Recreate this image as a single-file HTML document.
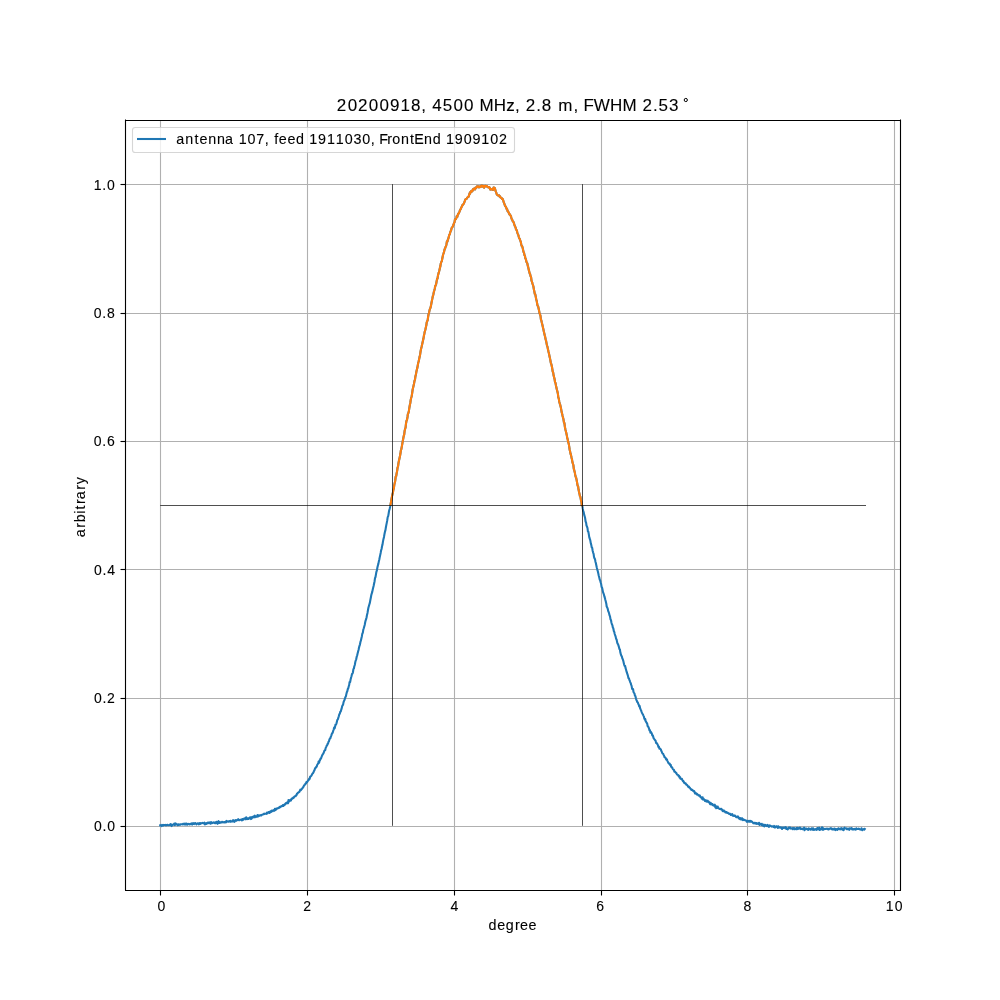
<!DOCTYPE html>
<html><head><meta charset="utf-8"><title>20200918, 4500 MHz, 2.8 m, FWHM 2.53</title><style>html,body{margin:0;padding:0;background:#fff;width:1000px;height:1000px;overflow:hidden}svg{display:block;will-change:transform}text{font-family:"Liberation Sans",sans-serif;fill:#000;stroke:#000;stroke-width:0.1px}</style></head><body>
<svg width="1000" height="1000" viewBox="0 0 1000 1000">
<rect width="1000" height="1000" fill="#fff"/>
<g stroke="#b0b0b0" stroke-width="1.111" fill="none">
<line x1="160.5" y1="120" x2="160.5" y2="890"/>
<line x1="307.5" y1="120" x2="307.5" y2="890"/>
<line x1="454.5" y1="120" x2="454.5" y2="890"/>
<line x1="601.5" y1="120" x2="601.5" y2="890"/>
<line x1="747.5" y1="120" x2="747.5" y2="890"/>
<line x1="894.5" y1="120" x2="894.5" y2="890"/>
<line x1="125" y1="826.5" x2="900" y2="826.5"/>
<line x1="125" y1="698.5" x2="900" y2="698.5"/>
<line x1="125" y1="569.5" x2="900" y2="569.5"/>
<line x1="125" y1="441.5" x2="900" y2="441.5"/>
<line x1="125" y1="313.5" x2="900" y2="313.5"/>
<line x1="125" y1="184.5" x2="900" y2="184.5"/>
</g>
<polyline fill="none" stroke="#1f77b4" stroke-width="2.083" stroke-linejoin="round" stroke-linecap="square" points="160.2,825.3 160.7,825.1 161.2,825.3 161.6,826.1 162.1,824.9 162.6,825.1 163.0,825.6 163.5,824.9 164.0,825.0 164.5,825.0 164.9,825.1 165.4,824.8 165.9,825.4 166.3,825.1 166.8,825.3 167.3,824.7 167.7,824.9 168.2,825.1 168.7,825.3 169.2,825.0 169.6,824.8 170.1,824.9 170.6,824.1 171.0,824.2 171.5,826.1 172.0,825.6 172.4,824.7 172.9,824.8 173.4,824.5 173.9,824.5 174.3,823.5 174.8,825.1 175.3,824.7 175.7,823.4 176.2,824.1 176.7,824.1 177.1,824.7 177.6,825.2 178.1,824.3 178.6,824.3 179.0,824.9 179.5,824.6 180.0,824.3 180.4,824.7 180.9,824.3 181.4,824.2 181.8,824.2 182.3,824.4 182.8,823.9 183.3,823.7 183.7,824.0 184.2,824.5 184.7,823.7 185.1,824.3 185.6,823.6 186.1,824.6 186.5,823.5 187.0,824.0 187.5,824.6 188.0,824.1 188.4,823.9 188.9,823.8 189.4,824.4 189.8,824.4 190.3,823.8 190.8,824.1 191.2,823.7 191.7,823.4 192.2,824.6 192.7,823.6 193.1,823.1 193.6,823.9 194.1,824.1 194.5,823.3 195.0,823.5 195.5,823.2 195.9,823.8 196.4,824.4 196.9,823.7 197.4,823.8 197.8,823.2 198.3,823.4 198.8,824.4 199.2,824.1 199.7,823.0 200.2,823.1 200.6,823.8 201.1,823.4 201.6,823.2 202.1,823.1 202.5,822.9 203.0,823.2 203.5,823.4 203.9,823.4 204.4,822.7 204.9,824.4 205.3,823.3 205.8,823.2 206.3,823.9 206.8,823.0 207.2,823.5 207.7,822.7 208.2,823.2 208.6,822.7 209.1,822.4 209.6,822.8 210.0,823.4 210.5,823.7 211.0,822.0 211.5,823.0 211.9,823.2 212.4,822.8 212.9,822.9 213.3,822.3 213.8,822.7 214.3,822.7 214.7,823.1 215.2,822.4 215.7,823.2 216.2,822.2 216.6,821.8 217.1,823.3 217.6,823.8 218.0,822.1 218.5,821.1 219.0,822.9 219.4,823.0 219.9,822.0 220.4,822.7 220.9,822.5 221.3,822.4 221.8,821.9 222.3,822.3 222.7,821.9 223.2,822.1 223.7,822.4 224.1,822.1 224.6,822.4 225.1,821.8 225.6,822.4 226.0,822.3 226.5,820.9 227.0,821.7 227.4,821.6 227.9,821.3 228.4,821.7 228.8,821.5 229.3,821.1 229.8,821.2 230.3,821.8 230.7,820.8 231.2,821.4 231.7,821.6 232.1,821.5 232.6,821.2 233.1,820.1 233.5,821.4 234.0,820.7 234.5,821.8 235.0,820.6 235.4,820.1 235.9,820.6 236.4,820.8 236.8,820.2 237.3,819.9 237.8,819.9 238.2,819.1 238.7,820.0 239.2,820.3 239.7,820.0 240.1,819.9 240.6,819.7 241.1,819.7 241.5,819.5 242.0,820.4 242.5,819.0 242.9,819.6 243.4,819.8 243.9,818.8 244.4,818.4 244.8,818.7 245.3,818.8 245.8,819.3 246.2,817.2 246.7,818.1 247.2,819.1 247.6,818.8 248.1,818.3 248.6,819.0 249.1,818.0 249.5,818.2 250.0,817.3 250.5,817.3 250.9,819.1 251.4,817.5 251.9,818.3 252.3,816.8 252.8,817.1 253.3,816.8 253.8,817.5 254.2,815.9 254.7,815.7 255.2,817.2 255.6,816.3 256.1,816.7 256.6,816.3 257.0,816.8 257.5,815.0 258.0,816.4 258.5,815.9 258.9,815.3 259.4,815.8 259.9,815.4 260.3,815.4 260.8,815.1 261.3,815.5 261.7,814.9 262.2,814.7 262.7,814.6 263.2,814.2 263.6,814.3 264.1,813.6 264.6,814.0 265.0,813.7 265.5,813.8 266.0,813.6 266.4,813.8 266.9,812.7 267.4,813.4 267.9,813.0 268.3,812.2 268.8,812.0 269.3,812.3 269.7,812.9 270.2,811.5 270.7,811.3 271.1,812.0 271.6,810.7 272.1,811.2 272.6,811.3 273.0,810.4 273.5,810.4 274.0,809.9 274.4,810.7 274.9,808.7 275.4,809.7 275.8,810.0 276.3,808.6 276.8,808.9 277.3,808.3 277.7,808.4 278.2,808.0 278.7,807.6 279.1,807.9 279.6,806.9 280.1,807.2 280.5,807.2 281.0,806.4 281.5,806.0 282.0,806.0 282.4,806.1 282.9,805.0 283.4,806.0 283.8,805.3 284.3,804.5 284.8,804.9 285.3,803.8 285.7,803.6 286.2,802.8 286.7,803.4 287.1,802.9 287.6,802.1 288.1,803.2 288.5,800.0 289.0,801.6 289.5,801.2 290.0,800.0 290.4,800.1 290.9,800.6 291.4,799.0 291.8,798.5 292.3,798.8 292.8,798.3 293.2,797.5 293.7,797.8 294.2,796.7 294.7,796.3 295.1,796.3 295.6,796.3 296.1,795.2 296.5,795.1 297.0,793.6 297.5,793.6 297.9,792.8 298.4,792.6 298.9,792.0 299.4,792.0 299.8,790.8 300.3,789.6 300.8,790.2 301.2,789.8 301.7,789.0 302.2,788.6 302.6,788.1 303.1,787.1 303.6,786.7 304.1,785.2 304.5,785.3 305.0,784.5 305.5,783.6 305.9,783.6 306.4,782.0 306.9,782.4 307.3,781.8 307.8,780.9 308.3,780.1 308.8,780.1 309.2,778.6 309.7,778.8 310.2,776.5 310.6,776.5 311.1,776.0 311.6,775.4 312.0,774.4 312.5,773.5 313.0,773.1 313.5,772.3 313.9,771.1 314.4,770.4 314.9,768.9 315.3,767.9 315.8,767.7 316.3,766.6 316.7,766.7 317.2,764.8 317.7,764.2 318.2,763.1 318.6,761.6 319.1,762.7 319.6,760.5 320.0,760.3 320.5,758.6 321.0,758.6 321.4,757.3 321.9,756.0 322.4,754.8 322.9,754.1 323.3,753.6 323.8,752.5 324.3,750.8 324.7,750.3 325.2,750.2 325.7,747.9 326.1,747.1 326.6,745.8 327.1,745.4 327.6,743.8 328.0,743.7 328.5,741.8 329.0,741.3 329.4,739.6 329.9,738.4 330.4,738.2 330.8,736.7 331.3,735.6 331.8,733.9 332.3,733.0 332.7,732.8 333.2,730.8 333.7,729.5 334.1,727.6 334.6,728.4 335.1,726.6 335.5,724.5 336.0,724.6 336.5,723.3 337.0,721.2 337.4,719.7 337.9,719.3 338.4,717.4 338.8,716.3 339.3,714.3 339.8,713.8 340.2,711.9 340.7,711.6 341.2,709.8 341.7,708.4 342.1,706.4 342.6,705.3 343.1,704.6 343.5,702.4 344.0,700.9 344.5,700.0 344.9,698.6 345.4,697.1 345.9,696.3 346.4,693.9 346.8,692.3 347.3,691.3 347.8,689.0 348.2,688.5 348.7,686.5 349.2,684.9 349.6,682.0 350.1,682.2 350.6,679.5 351.1,677.6 351.5,676.2 352.0,674.1 352.5,673.6 352.9,672.5 353.4,669.2 353.9,668.5 354.3,666.3 354.8,665.0 355.3,662.0 355.8,660.3 356.2,659.3 356.7,656.7 357.2,655.3 357.6,653.5 358.1,651.6 358.6,649.8 359.0,647.6 359.5,645.8 360.0,644.3 360.5,641.6 360.9,640.6 361.4,638.2 361.9,636.2 362.3,633.7 362.8,632.8 363.3,629.6 363.7,628.5 364.2,626.7 364.7,625.0 365.2,622.3 365.6,620.6 366.1,619.2 366.6,617.2 367.0,614.9 367.5,612.9 368.0,610.0 368.4,607.8 368.9,606.0 369.4,604.2 369.9,602.6 370.3,600.3 370.8,597.7 371.3,595.0 371.7,593.6 372.2,592.1 372.7,589.8 373.1,587.9 373.6,586.0 374.1,583.5 374.6,581.2 375.0,578.2 375.5,577.0 376.0,574.1 376.4,571.8 376.9,570.4 377.4,567.5 377.8,565.7 378.3,564.1 378.8,561.6 379.3,559.5 379.7,557.4 380.2,555.1 380.7,552.7 381.1,550.3 381.6,548.8 382.1,546.0 382.5,544.6 383.0,541.4 383.5,538.9 384.0,536.9 384.4,534.5 384.9,532.0 385.4,530.4 385.8,527.8 386.3,525.1 386.8,522.6 387.2,520.5 387.7,517.1 388.2,516.1 388.7,513.2 389.1,510.7 389.6,509.0 390.1,507.0 390.5,504.8 391.0,501.8 391.5,498.9 391.9,496.9 392.4,494.6 392.9,492.5 393.4,489.6 393.8,488.6 394.3,484.9 394.8,482.6 395.2,480.9 395.7,476.7 396.2,476.1 396.6,473.5 397.1,471.1 397.6,467.5 398.1,466.1 398.5,462.9 399.0,460.5 399.5,458.2 399.9,456.6 400.4,453.8 400.9,450.2 401.3,449.3 401.8,446.6 402.3,443.8 402.8,440.9 403.2,438.7 403.7,436.1 404.2,434.6 404.6,431.1 405.1,428.9 405.6,427.5 406.0,423.5 406.5,420.7 407.0,419.9 407.5,417.0 407.9,413.9 408.4,413.0 408.9,410.9 409.3,408.1 409.8,405.3 410.3,403.0 410.7,400.0 411.2,397.8 411.7,396.2 412.2,392.9 412.6,389.8 413.1,387.8 413.6,385.6 414.0,383.7 414.5,380.9 415.0,379.6 415.4,376.4 415.9,374.5 416.4,371.6 416.9,369.6 417.3,368.1 417.8,365.2 418.3,362.4 418.7,361.3 419.2,358.7 419.7,356.6 420.1,354.7 420.6,351.2 421.1,348.8 421.6,346.8 422.0,344.9 422.5,342.8 423.0,340.5 423.4,338.8 423.9,335.8 424.4,333.5 424.8,331.4 425.3,330.0 425.8,327.6 426.3,325.6 426.7,322.4 427.2,321.2 427.7,320.1 428.1,316.8 428.6,314.0 429.1,312.5 429.5,310.4 430.0,308.7 430.5,307.7 431.0,305.6 431.4,303.3 431.9,300.7 432.4,298.4 432.8,296.2 433.3,294.8 433.8,292.1 434.2,290.8 434.7,289.0 435.2,286.3 435.7,285.2 436.1,284.2 436.6,281.4 437.1,278.9 437.5,278.6 438.0,275.3 438.5,273.4 438.9,272.1 439.4,270.3 439.9,267.9 440.4,266.1 440.8,263.3 441.3,262.0 441.8,261.2 442.2,259.0 442.7,256.5 443.2,254.2 443.6,253.3 444.1,251.6 444.6,249.2 445.1,248.6 445.5,247.1 446.0,246.2 446.5,244.2 446.9,241.3 447.4,241.7 447.9,239.5 448.3,238.8 448.8,236.7 449.3,234.9 449.8,234.2 450.2,232.4 450.7,231.1 451.2,230.0 451.6,228.1 452.1,227.4 452.6,226.8 453.0,225.8 453.5,224.8 454.0,223.0 454.5,222.3 454.9,219.6 455.4,219.0 455.9,219.1 456.3,218.1 456.8,216.1 457.3,216.9 457.7,215.2 458.2,213.5 458.7,213.6 459.2,212.4 459.6,211.4 460.1,209.9 460.6,209.3 461.0,208.2 461.5,207.1 462.0,206.4 462.4,204.9 462.9,204.8 463.4,204.2 463.9,203.4 464.3,202.4 464.8,201.0 465.3,199.5 465.7,199.2 466.2,199.0 466.7,198.7 467.1,197.9 467.6,197.3 468.1,196.9 468.6,196.7 469.0,195.4 469.5,193.4 470.0,193.8 470.4,191.9 470.9,192.3 471.4,190.7 471.8,190.9 472.3,191.3 472.8,190.0 473.3,188.8 473.7,189.4 474.2,188.6 474.7,188.9 475.1,189.5 475.6,187.6 476.1,187.5 476.5,187.6 477.0,186.3 477.5,186.5 478.0,187.0 478.4,186.4 478.9,187.4 479.4,186.6 479.8,187.2 480.3,186.3 480.8,186.9 481.2,185.5 481.7,186.1 482.2,185.5 482.7,186.7 483.1,186.6 483.6,185.9 484.1,187.8 484.5,186.9 485.0,185.8 485.5,186.1 485.9,185.8 486.4,186.4 486.9,186.0 487.4,186.7 487.8,187.1 488.3,187.4 488.8,187.0 489.2,187.2 489.7,187.6 490.2,189.6 490.6,189.5 491.1,189.2 491.6,189.0 492.1,189.5 492.5,189.5 493.0,190.0 493.5,187.6 493.9,189.2 494.4,187.8 494.9,188.3 495.3,189.8 495.8,191.6 496.3,192.7 496.8,194.6 497.2,194.6 497.7,195.3 498.2,195.4 498.6,195.5 499.1,195.4 499.6,196.7 500.0,196.2 500.5,197.4 501.0,197.8 501.5,198.0 501.9,198.8 502.4,198.5 502.9,199.6 503.3,200.7 503.8,202.5 504.3,203.4 504.7,204.9 505.2,206.2 505.7,206.4 506.2,207.4 506.6,209.0 507.1,209.1 507.6,211.2 508.0,211.3 508.5,212.4 509.0,213.2 509.4,214.4 509.9,214.3 510.4,215.4 510.9,216.1 511.3,217.6 511.8,219.3 512.3,219.9 512.7,221.3 513.2,221.6 513.7,222.3 514.1,223.9 514.6,225.5 515.1,226.5 515.6,227.4 516.0,229.5 516.5,229.9 517.0,231.2 517.4,232.8 517.9,234.1 518.4,235.1 518.8,237.0 519.3,238.4 519.8,239.0 520.3,240.7 520.7,241.4 521.2,244.2 521.7,246.0 522.1,246.1 522.6,247.6 523.1,250.0 523.5,251.9 524.0,252.7 524.5,255.2 525.0,256.1 525.4,258.6 525.9,259.2 526.4,261.8 526.8,262.5 527.3,263.3 527.8,265.9 528.2,267.1 528.7,269.6 529.2,271.4 529.7,273.5 530.1,274.0 530.6,276.3 531.1,277.3 531.5,280.6 532.0,281.9 532.5,283.6 532.9,284.8 533.4,286.5 533.9,289.6 534.4,291.8 534.8,294.0 535.3,294.4 535.8,297.0 536.2,299.3 536.7,300.9 537.2,304.1 537.6,305.7 538.1,306.3 538.6,308.5 539.1,310.7 539.5,313.2 540.0,314.4 540.5,315.8 540.9,319.4 541.4,320.7 541.9,323.0 542.3,324.6 542.8,326.8 543.3,328.9 543.8,331.4 544.2,333.0 544.7,335.3 545.2,337.1 545.6,339.2 546.1,340.9 546.6,343.6 547.0,345.5 547.5,346.9 548.0,349.6 548.5,351.8 548.9,353.3 549.4,355.7 549.9,357.9 550.3,359.9 550.8,362.8 551.3,364.1 551.7,365.7 552.2,368.3 552.7,371.5 553.2,372.7 553.6,375.4 554.1,377.2 554.6,379.2 555.0,382.0 555.5,382.9 556.0,385.7 556.4,387.5 556.9,389.7 557.4,391.5 557.9,393.7 558.3,397.3 558.8,398.7 559.3,402.0 559.7,403.3 560.2,404.8 560.7,406.9 561.1,408.9 561.6,411.9 562.1,413.7 562.6,416.0 563.0,417.6 563.5,419.6 564.0,422.8 564.4,422.9 564.9,427.0 565.4,429.4 565.8,431.0 566.3,433.1 566.8,435.4 567.3,438.2 567.7,439.3 568.2,442.2 568.7,443.6 569.1,445.9 569.6,449.4 570.1,451.4 570.5,453.6 571.0,455.1 571.5,457.4 572.0,459.4 572.4,462.2 572.9,463.7 573.4,465.3 573.8,468.9 574.3,470.4 574.8,472.4 575.2,474.7 575.7,476.9 576.2,478.0 576.7,480.4 577.1,482.7 577.6,485.7 578.1,486.2 578.5,489.3 579.0,491.9 579.5,493.9 579.9,496.1 580.4,496.8 580.9,499.9 581.4,502.1 581.8,505.3 582.3,505.9 582.8,508.9 583.2,511.0 583.7,512.1 584.2,514.9 584.6,516.1 585.1,518.0 585.6,521.5 586.1,522.7 586.5,525.5 587.0,526.7 587.5,528.2 587.9,531.4 588.4,531.8 588.9,534.9 589.3,537.3 589.8,538.8 590.3,540.3 590.8,543.3 591.2,544.6 591.7,547.3 592.2,547.9 592.6,550.4 593.1,552.6 593.6,553.8 594.0,556.9 594.5,558.4 595.0,559.1 595.5,562.0 595.9,563.2 596.4,565.7 596.9,568.0 597.3,569.6 597.8,571.3 598.3,573.4 598.7,575.5 599.2,577.3 599.7,579.5 600.2,580.5 600.6,582.2 601.1,583.8 601.6,587.0 602.0,587.4 602.5,589.6 603.0,592.1 603.4,593.1 603.9,594.5 604.4,596.4 604.9,598.1 605.3,599.7 605.8,601.5 606.3,603.7 606.7,606.5 607.2,607.5 607.7,608.6 608.1,610.8 608.6,611.9 609.1,613.5 609.6,615.6 610.0,616.3 610.5,619.4 611.0,620.1 611.4,622.5 611.9,624.3 612.4,625.2 612.8,627.4 613.3,628.3 613.8,631.0 614.3,631.9 614.7,634.0 615.2,635.3 615.7,636.9 616.1,638.9 616.6,639.5 617.1,642.1 617.5,643.5 618.0,644.1 618.5,645.6 619.0,647.3 619.4,649.0 619.9,649.5 620.4,652.8 620.8,654.1 621.3,655.7 621.8,656.2 622.2,658.0 622.7,659.1 623.2,660.6 623.7,662.7 624.1,664.5 624.6,666.0 625.1,665.8 625.5,667.9 626.0,669.5 626.5,671.4 626.9,672.7 627.4,674.2 627.9,675.6 628.4,678.0 628.8,678.2 629.3,679.7 629.8,680.7 630.2,682.1 630.7,683.1 631.2,684.9 631.6,685.8 632.1,688.8 632.6,689.4 633.1,689.2 633.5,692.0 634.0,692.8 634.5,693.5 634.9,695.6 635.4,696.0 635.9,698.3 636.3,699.8 636.8,700.7 637.3,702.1 637.8,702.4 638.2,703.8 638.7,704.6 639.2,706.5 639.6,705.8 640.1,708.3 640.6,709.4 641.0,710.2 641.5,711.7 642.0,713.0 642.5,713.8 642.9,714.4 643.4,715.6 643.9,716.6 644.3,718.4 644.8,719.6 645.3,719.2 645.7,721.4 646.2,722.0 646.7,722.9 647.2,723.6 647.6,726.0 648.1,726.5 648.6,727.5 649.0,728.4 649.5,730.5 650.0,730.2 650.4,732.6 650.9,731.9 651.4,732.8 651.9,733.7 652.3,735.5 652.8,735.3 653.3,737.2 653.7,738.3 654.2,739.0 654.7,739.8 655.1,740.2 655.6,740.7 656.1,743.1 656.6,743.2 657.0,743.3 657.5,744.5 658.0,745.2 658.4,747.0 658.9,746.6 659.4,748.7 659.8,748.6 660.3,748.8 660.8,749.4 661.3,750.9 661.7,751.5 662.2,753.0 662.7,753.7 663.1,753.7 663.6,755.0 664.1,755.8 664.5,757.3 665.0,757.2 665.5,757.7 666.0,759.1 666.4,759.7 666.9,759.4 667.4,760.8 667.8,761.7 668.3,762.9 668.8,763.3 669.2,763.8 669.7,763.6 670.2,765.3 670.7,764.8 671.1,766.8 671.6,767.2 672.1,767.2 672.5,768.4 673.0,769.4 673.5,769.6 673.9,769.9 674.4,771.7 674.9,771.5 675.4,772.1 675.8,772.8 676.3,772.8 676.8,774.1 677.2,774.6 677.7,774.9 678.2,775.2 678.6,776.2 679.1,775.9 679.6,777.7 680.1,777.1 680.5,778.7 681.0,778.9 681.5,779.2 681.9,778.8 682.4,780.0 682.9,781.1 683.3,780.8 683.8,782.1 684.3,782.9 684.8,782.7 685.2,783.4 685.7,783.4 686.2,784.7 686.6,784.7 687.1,785.0 687.6,785.7 688.0,786.3 688.5,787.1 689.0,786.7 689.5,787.5 689.9,787.8 690.4,788.7 690.9,788.9 691.3,789.9 691.8,789.7 692.3,789.8 692.7,790.6 693.2,790.6 693.7,791.3 694.2,791.1 694.6,792.3 695.1,793.5 695.6,792.8 696.0,793.5 696.5,794.3 697.0,793.8 697.4,794.4 697.9,794.7 698.4,795.4 698.9,795.5 699.3,795.8 699.8,795.4 700.3,797.0 700.7,797.0 701.2,797.2 701.7,798.6 702.1,798.8 702.6,797.2 703.1,799.6 703.6,798.7 704.0,799.7 704.5,800.0 705.0,801.0 705.4,800.7 705.9,800.2 706.4,801.6 706.8,800.9 707.3,801.3 707.8,800.7 708.3,802.3 708.7,801.7 709.2,802.2 709.7,803.1 710.1,804.1 710.6,802.7 711.1,804.5 711.5,804.3 712.0,803.9 712.5,804.0 713.0,805.3 713.4,805.2 713.9,805.6 714.4,805.1 714.8,804.7 715.3,807.2 715.8,806.0 716.2,808.2 716.7,807.0 717.2,807.9 717.7,806.5 718.1,807.7 718.6,808.4 719.1,808.6 719.5,808.9 720.0,808.7 720.5,809.2 720.9,809.0 721.4,808.8 721.9,809.5 722.4,810.7 722.8,811.2 723.3,811.0 723.8,810.3 724.2,811.2 724.7,811.6 725.2,811.5 725.6,812.5 726.1,812.6 726.6,812.0 727.1,812.7 727.5,813.0 728.0,812.8 728.5,813.5 728.9,813.8 729.4,813.9 729.9,813.6 730.3,814.1 730.8,815.0 731.3,814.7 731.8,814.5 732.2,814.0 732.7,815.8 733.2,815.3 733.6,815.8 734.1,815.4 734.6,815.9 735.0,815.5 735.5,816.2 736.0,817.0 736.5,817.2 736.9,816.9 737.4,817.1 737.9,816.3 738.3,816.8 738.8,818.5 739.3,817.9 739.7,818.9 740.2,819.3 740.7,818.2 741.2,818.5 741.6,819.5 742.1,818.3 742.6,819.8 743.0,820.1 743.5,819.3 744.0,819.7 744.5,820.1 744.9,820.2 745.4,820.2 745.9,820.5 746.3,820.7 746.8,821.8 747.3,821.6 747.7,820.8 748.2,821.6 748.7,821.1 749.2,820.9 749.6,821.8 750.1,821.7 750.6,820.9 751.0,821.7 751.5,821.3 752.0,821.6 752.4,822.1 752.9,822.7 753.4,823.2 753.9,823.4 754.3,822.7 754.8,822.9 755.3,823.3 755.7,822.9 756.2,823.8 756.7,823.0 757.1,823.7 757.6,823.8 758.1,823.9 758.6,824.1 759.0,822.8 759.5,825.0 760.0,824.2 760.4,823.8 760.9,824.2 761.4,824.8 761.8,823.8 762.3,825.4 762.8,825.6 763.3,824.7 763.7,825.8 764.2,826.4 764.7,824.8 765.1,825.0 765.6,825.1 766.1,825.8 766.5,825.5 767.0,826.2 767.5,824.9 768.0,825.5 768.4,825.6 768.9,827.0 769.4,825.7 769.8,825.4 770.3,825.6 770.8,825.9 771.2,826.4 771.7,826.6 772.2,826.2 772.7,826.4 773.1,826.5 773.6,826.9 774.1,825.9 774.5,827.4 775.0,826.9 775.5,827.3 775.9,826.5 776.4,826.3 776.9,826.5 777.4,826.8 777.8,828.0 778.3,826.2 778.8,827.1 779.2,827.4 779.7,827.4 780.2,827.7 780.6,827.3 781.1,827.4 781.6,827.8 782.1,829.0 782.5,827.7 783.0,827.5 783.5,827.5 783.9,827.9 784.4,827.7 784.9,827.4 785.3,828.2 785.8,827.2 786.3,829.0 786.8,828.7 787.2,828.6 787.7,829.4 788.2,828.7 788.6,827.6 789.1,827.6 789.6,828.2 790.0,827.4 790.5,828.2 791.0,828.6 791.5,828.3 791.9,828.5 792.4,828.1 792.9,829.2 793.3,828.0 793.8,828.7 794.3,828.1 794.7,829.3 795.2,828.8 795.7,828.6 796.2,828.2 796.6,829.3 797.1,827.8 797.6,828.4 798.0,829.0 798.5,828.1 799.0,828.7 799.4,828.1 799.9,827.6 800.4,828.4 800.9,829.1 801.3,829.0 801.8,828.5 802.3,828.7 802.7,829.3 803.2,829.2 803.7,828.5 804.1,827.7 804.6,830.2 805.1,828.5 805.6,829.0 806.0,828.5 806.5,828.5 807.0,828.9 807.4,829.5 807.9,829.7 808.4,829.9 808.8,828.3 809.3,829.1 809.8,829.2 810.3,829.1 810.7,829.7 811.2,828.8 811.7,828.3 812.1,828.4 812.6,829.8 813.1,828.3 813.5,829.4 814.0,830.0 814.5,829.6 815.0,829.5 815.4,829.0 815.9,829.5 816.4,829.8 816.8,829.1 817.3,828.0 817.8,829.4 818.2,828.8 818.7,828.9 819.2,827.6 819.7,830.0 820.1,828.4 820.6,829.6 821.1,829.3 821.5,829.0 822.0,827.3 822.5,829.4 822.9,829.9 823.4,828.3 823.9,829.4 824.4,829.1 824.8,829.0 825.3,828.9 825.8,829.0 826.2,828.8 826.7,828.7 827.2,828.5 827.6,829.2 828.1,829.3 828.6,829.5 829.1,828.6 829.5,828.9 830.0,828.6 830.5,828.6 830.9,828.0 831.4,828.8 831.9,828.5 832.3,829.5 832.8,829.4 833.3,829.0 833.8,829.5 834.2,828.5 834.7,829.6 835.2,828.8 835.6,830.1 836.1,829.4 836.6,829.0 837.0,829.0 837.5,829.8 838.0,828.8 838.5,828.3 838.9,828.5 839.4,829.2 839.9,829.1 840.3,829.4 840.8,828.5 841.3,828.1 841.7,829.1 842.2,829.7 842.7,828.7 843.2,828.5 843.6,830.2 844.1,828.7 844.6,827.7 845.0,828.4 845.5,828.5 846.0,828.6 846.4,828.3 846.9,829.3 847.4,829.2 847.9,828.6 848.3,829.2 848.8,828.7 849.3,829.8 849.7,828.4 850.2,828.4 850.7,828.8 851.1,828.8 851.6,828.0 852.1,829.4 852.6,829.3 853.0,829.4 853.5,829.1 854.0,829.4 854.4,828.9 854.9,829.2 855.4,829.6 855.8,829.7 856.3,828.3 856.8,829.0 857.3,829.0 857.7,828.9 858.2,829.0 858.7,828.6 859.1,828.7 859.6,829.3 860.1,829.4 860.5,829.6 861.0,829.7 861.5,828.3 862.0,829.5 862.4,830.1 862.9,829.5 863.4,829.5 863.8,829.0 864.3,829.6 864.8,828.9"/>
<polyline fill="none" stroke="#ff7f0e" stroke-width="2.083" stroke-linejoin="round" stroke-linecap="square" points="390.5,504.8 391.0,501.8 391.5,498.9 391.9,496.9 392.4,494.6 392.9,492.5 393.4,489.6 393.8,488.6 394.3,484.9 394.8,482.6 395.2,480.9 395.7,476.7 396.2,476.1 396.6,473.5 397.1,471.1 397.6,467.5 398.1,466.1 398.5,462.9 399.0,460.5 399.5,458.2 399.9,456.6 400.4,453.8 400.9,450.2 401.3,449.3 401.8,446.6 402.3,443.8 402.8,440.9 403.2,438.7 403.7,436.1 404.2,434.6 404.6,431.1 405.1,428.9 405.6,427.5 406.0,423.5 406.5,420.7 407.0,419.9 407.5,417.0 407.9,413.9 408.4,413.0 408.9,410.9 409.3,408.1 409.8,405.3 410.3,403.0 410.7,400.0 411.2,397.8 411.7,396.2 412.2,392.9 412.6,389.8 413.1,387.8 413.6,385.6 414.0,383.7 414.5,380.9 415.0,379.6 415.4,376.4 415.9,374.5 416.4,371.6 416.9,369.6 417.3,368.1 417.8,365.2 418.3,362.4 418.7,361.3 419.2,358.7 419.7,356.6 420.1,354.7 420.6,351.2 421.1,348.8 421.6,346.8 422.0,344.9 422.5,342.8 423.0,340.5 423.4,338.8 423.9,335.8 424.4,333.5 424.8,331.4 425.3,330.0 425.8,327.6 426.3,325.6 426.7,322.4 427.2,321.2 427.7,320.1 428.1,316.8 428.6,314.0 429.1,312.5 429.5,310.4 430.0,308.7 430.5,307.7 431.0,305.6 431.4,303.3 431.9,300.7 432.4,298.4 432.8,296.2 433.3,294.8 433.8,292.1 434.2,290.8 434.7,289.0 435.2,286.3 435.7,285.2 436.1,284.2 436.6,281.4 437.1,278.9 437.5,278.6 438.0,275.3 438.5,273.4 438.9,272.1 439.4,270.3 439.9,267.9 440.4,266.1 440.8,263.3 441.3,262.0 441.8,261.2 442.2,259.0 442.7,256.5 443.2,254.2 443.6,253.3 444.1,251.6 444.6,249.2 445.1,248.6 445.5,247.1 446.0,246.2 446.5,244.2 446.9,241.3 447.4,241.7 447.9,239.5 448.3,238.8 448.8,236.7 449.3,234.9 449.8,234.2 450.2,232.4 450.7,231.1 451.2,230.0 451.6,228.1 452.1,227.4 452.6,226.8 453.0,225.8 453.5,224.8 454.0,223.0 454.5,222.3 454.9,219.6 455.4,219.0 455.9,219.1 456.3,218.1 456.8,216.1 457.3,216.9 457.7,215.2 458.2,213.5 458.7,213.6 459.2,212.4 459.6,211.4 460.1,209.9 460.6,209.3 461.0,208.2 461.5,207.1 462.0,206.4 462.4,204.9 462.9,204.8 463.4,204.2 463.9,203.4 464.3,202.4 464.8,201.0 465.3,199.5 465.7,199.2 466.2,199.0 466.7,198.7 467.1,197.9 467.6,197.3 468.1,196.9 468.6,196.7 469.0,195.4 469.5,193.4 470.0,193.8 470.4,191.9 470.9,192.3 471.4,190.7 471.8,190.9 472.3,191.3 472.8,190.0 473.3,188.8 473.7,189.4 474.2,188.6 474.7,188.9 475.1,189.5 475.6,187.6 476.1,187.5 476.5,187.6 477.0,186.3 477.5,186.5 478.0,187.0 478.4,186.4 478.9,187.4 479.4,186.6 479.8,187.2 480.3,186.3 480.8,186.9 481.2,185.5 481.7,186.1 482.2,185.5 482.7,186.7 483.1,186.6 483.6,185.9 484.1,187.8 484.5,186.9 485.0,185.8 485.5,186.1 485.9,185.8 486.4,186.4 486.9,186.0 487.4,186.7 487.8,187.1 488.3,187.4 488.8,187.0 489.2,187.2 489.7,187.6 490.2,189.6 490.6,189.5 491.1,189.2 491.6,189.0 492.1,189.5 492.5,189.5 493.0,190.0 493.5,187.6 493.9,189.2 494.4,187.8 494.9,188.3 495.3,189.8 495.8,191.6 496.3,192.7 496.8,194.6 497.2,194.6 497.7,195.3 498.2,195.4 498.6,195.5 499.1,195.4 499.6,196.7 500.0,196.2 500.5,197.4 501.0,197.8 501.5,198.0 501.9,198.8 502.4,198.5 502.9,199.6 503.3,200.7 503.8,202.5 504.3,203.4 504.7,204.9 505.2,206.2 505.7,206.4 506.2,207.4 506.6,209.0 507.1,209.1 507.6,211.2 508.0,211.3 508.5,212.4 509.0,213.2 509.4,214.4 509.9,214.3 510.4,215.4 510.9,216.1 511.3,217.6 511.8,219.3 512.3,219.9 512.7,221.3 513.2,221.6 513.7,222.3 514.1,223.9 514.6,225.5 515.1,226.5 515.6,227.4 516.0,229.5 516.5,229.9 517.0,231.2 517.4,232.8 517.9,234.1 518.4,235.1 518.8,237.0 519.3,238.4 519.8,239.0 520.3,240.7 520.7,241.4 521.2,244.2 521.7,246.0 522.1,246.1 522.6,247.6 523.1,250.0 523.5,251.9 524.0,252.7 524.5,255.2 525.0,256.1 525.4,258.6 525.9,259.2 526.4,261.8 526.8,262.5 527.3,263.3 527.8,265.9 528.2,267.1 528.7,269.6 529.2,271.4 529.7,273.5 530.1,274.0 530.6,276.3 531.1,277.3 531.5,280.6 532.0,281.9 532.5,283.6 532.9,284.8 533.4,286.5 533.9,289.6 534.4,291.8 534.8,294.0 535.3,294.4 535.8,297.0 536.2,299.3 536.7,300.9 537.2,304.1 537.6,305.7 538.1,306.3 538.6,308.5 539.1,310.7 539.5,313.2 540.0,314.4 540.5,315.8 540.9,319.4 541.4,320.7 541.9,323.0 542.3,324.6 542.8,326.8 543.3,328.9 543.8,331.4 544.2,333.0 544.7,335.3 545.2,337.1 545.6,339.2 546.1,340.9 546.6,343.6 547.0,345.5 547.5,346.9 548.0,349.6 548.5,351.8 548.9,353.3 549.4,355.7 549.9,357.9 550.3,359.9 550.8,362.8 551.3,364.1 551.7,365.7 552.2,368.3 552.7,371.5 553.2,372.7 553.6,375.4 554.1,377.2 554.6,379.2 555.0,382.0 555.5,382.9 556.0,385.7 556.4,387.5 556.9,389.7 557.4,391.5 557.9,393.7 558.3,397.3 558.8,398.7 559.3,402.0 559.7,403.3 560.2,404.8 560.7,406.9 561.1,408.9 561.6,411.9 562.1,413.7 562.6,416.0 563.0,417.6 563.5,419.6 564.0,422.8 564.4,422.9 564.9,427.0 565.4,429.4 565.8,431.0 566.3,433.1 566.8,435.4 567.3,438.2 567.7,439.3 568.2,442.2 568.7,443.6 569.1,445.9 569.6,449.4 570.1,451.4 570.5,453.6 571.0,455.1 571.5,457.4 572.0,459.4 572.4,462.2 572.9,463.7 573.4,465.3 573.8,468.9 574.3,470.4 574.8,472.4 575.2,474.7 575.7,476.9 576.2,478.0 576.7,480.4 577.1,482.7 577.6,485.7 578.1,486.2 578.5,489.3 579.0,491.9 579.5,493.9 579.9,496.1 580.4,496.8 580.9,499.9 581.4,502.1 581.8,505.3"/>
<g stroke="#000" stroke-width="0.694" fill="none">
<line x1="392.5" y1="184.17" x2="392.5" y2="825.83"/>
<line x1="582.5" y1="184.17" x2="582.5" y2="825.83"/>
<line x1="160.23" y1="505.5" x2="866" y2="505.5"/>
</g>
<g stroke="#000" stroke-width="1.111" fill="none">
<line x1="125.5" y1="119.5" x2="125.5" y2="890.5"/>
<line x1="900.5" y1="119.5" x2="900.5" y2="890.5"/>
<line x1="125" y1="120.5" x2="901" y2="120.5"/>
<line x1="125" y1="890.5" x2="901" y2="890.5"/>
<line x1="160.5" y1="890.5" x2="160.5" y2="895.5"/>
<line x1="307.5" y1="890.5" x2="307.5" y2="895.5"/>
<line x1="454.5" y1="890.5" x2="454.5" y2="895.5"/>
<line x1="601.5" y1="890.5" x2="601.5" y2="895.5"/>
<line x1="747.5" y1="890.5" x2="747.5" y2="895.5"/>
<line x1="894.5" y1="890.5" x2="894.5" y2="895.5"/>
<line x1="120.5" y1="826.5" x2="125.5" y2="826.5"/>
<line x1="120.5" y1="698.5" x2="125.5" y2="698.5"/>
<line x1="120.5" y1="569.5" x2="125.5" y2="569.5"/>
<line x1="120.5" y1="441.5" x2="125.5" y2="441.5"/>
<line x1="120.5" y1="313.5" x2="125.5" y2="313.5"/>
<line x1="120.5" y1="184.5" x2="125.5" y2="184.5"/>
</g>
<text x="157.57" y="911.00" font-size="14.0">0</text>
<text x="303.33" y="911.00" font-size="14.0">2</text>
<text x="450.55" y="911.00" font-size="14.0">4</text>
<text x="596.32" y="911.00" font-size="14.0">6</text>
<text x="743.55" y="911.00" font-size="14.0">8</text>
<text x="885.85 894.75" y="911.00" font-size="14.0">10</text>
<text x="93.93 102.49 107.16" y="831.00" font-size="14.0">0.0</text>
<text x="93.93 102.49 106.98" y="703.00" font-size="14.0">0.2</text>
<text x="93.93 102.49 107.16" y="575.00" font-size="14.0">0.4</text>
<text x="93.80 102.36 107.04" y="446.00" font-size="14.0">0.6</text>
<text x="93.80 102.36 107.04" y="318.00" font-size="14.0">0.8</text>
<text x="93.74 102.36 107.04" y="190.00" font-size="14.0">1.0</text>
<text x="488.47 497.26 505.81 515.02 520.05 528.59" y="930.00" font-size="14.3">degree</text>
<g transform="translate(85,505) rotate(-90)">
<text x="-32.24 -22.75 -17.27 -8.64 -4.43 1.06 5.78 15.27 20.75" y="0.00" font-size="14.3">arbitrary</text>
</g>
<text x="336.85 347.65 358.01 368.80 379.38 389.90 400.45 411.11 421.24 426.69 432.26 442.77 453.41 463.99 474.28 479.40 493.75 506.33 514.97 520.43 525.77 536.28 541.86 552.15 558.23 573.46 578.91 583.49 593.69 610.04 622.53 637.04 642.39 652.90 658.41 669.07" y="110.50" font-size="17.0">20200918, 4500 MHz, 2.8 m, FWHM 2.53</text>
<circle cx="685.8" cy="100.0" r="1.6" fill="none" stroke="#000" stroke-width="1.0"/>
<rect x="132.5" y="127.5" width="382" height="25" rx="2.8" ry="2.8" fill="#fff" fill-opacity="0.8" stroke="#cccccc" stroke-opacity="0.8" stroke-width="1.111"/>
<line x1="137" y1="139.0" x2="166" y2="139.0" stroke="#1f77b4" stroke-width="2.083" stroke-linecap="butt"/>
<text x="176.16 185.37 194.42 199.50 208.18 216.98 225.10 234.07 238.64 247.55 256.36 264.87 269.43 274.26 278.84 287.39 295.96 304.66 309.22 318.09 326.90 335.74 344.65 353.51 362.34 370.82 375.38 379.18 387.31 392.30 400.98 410.04 414.36 424.02 432.72 441.41 445.98 454.84 463.73 472.53 481.34 490.25 498.91" y="143.50" font-size="14.3">antenna 107, feed 1911030, FrontEnd 1909102</text>
</svg></body></html>
